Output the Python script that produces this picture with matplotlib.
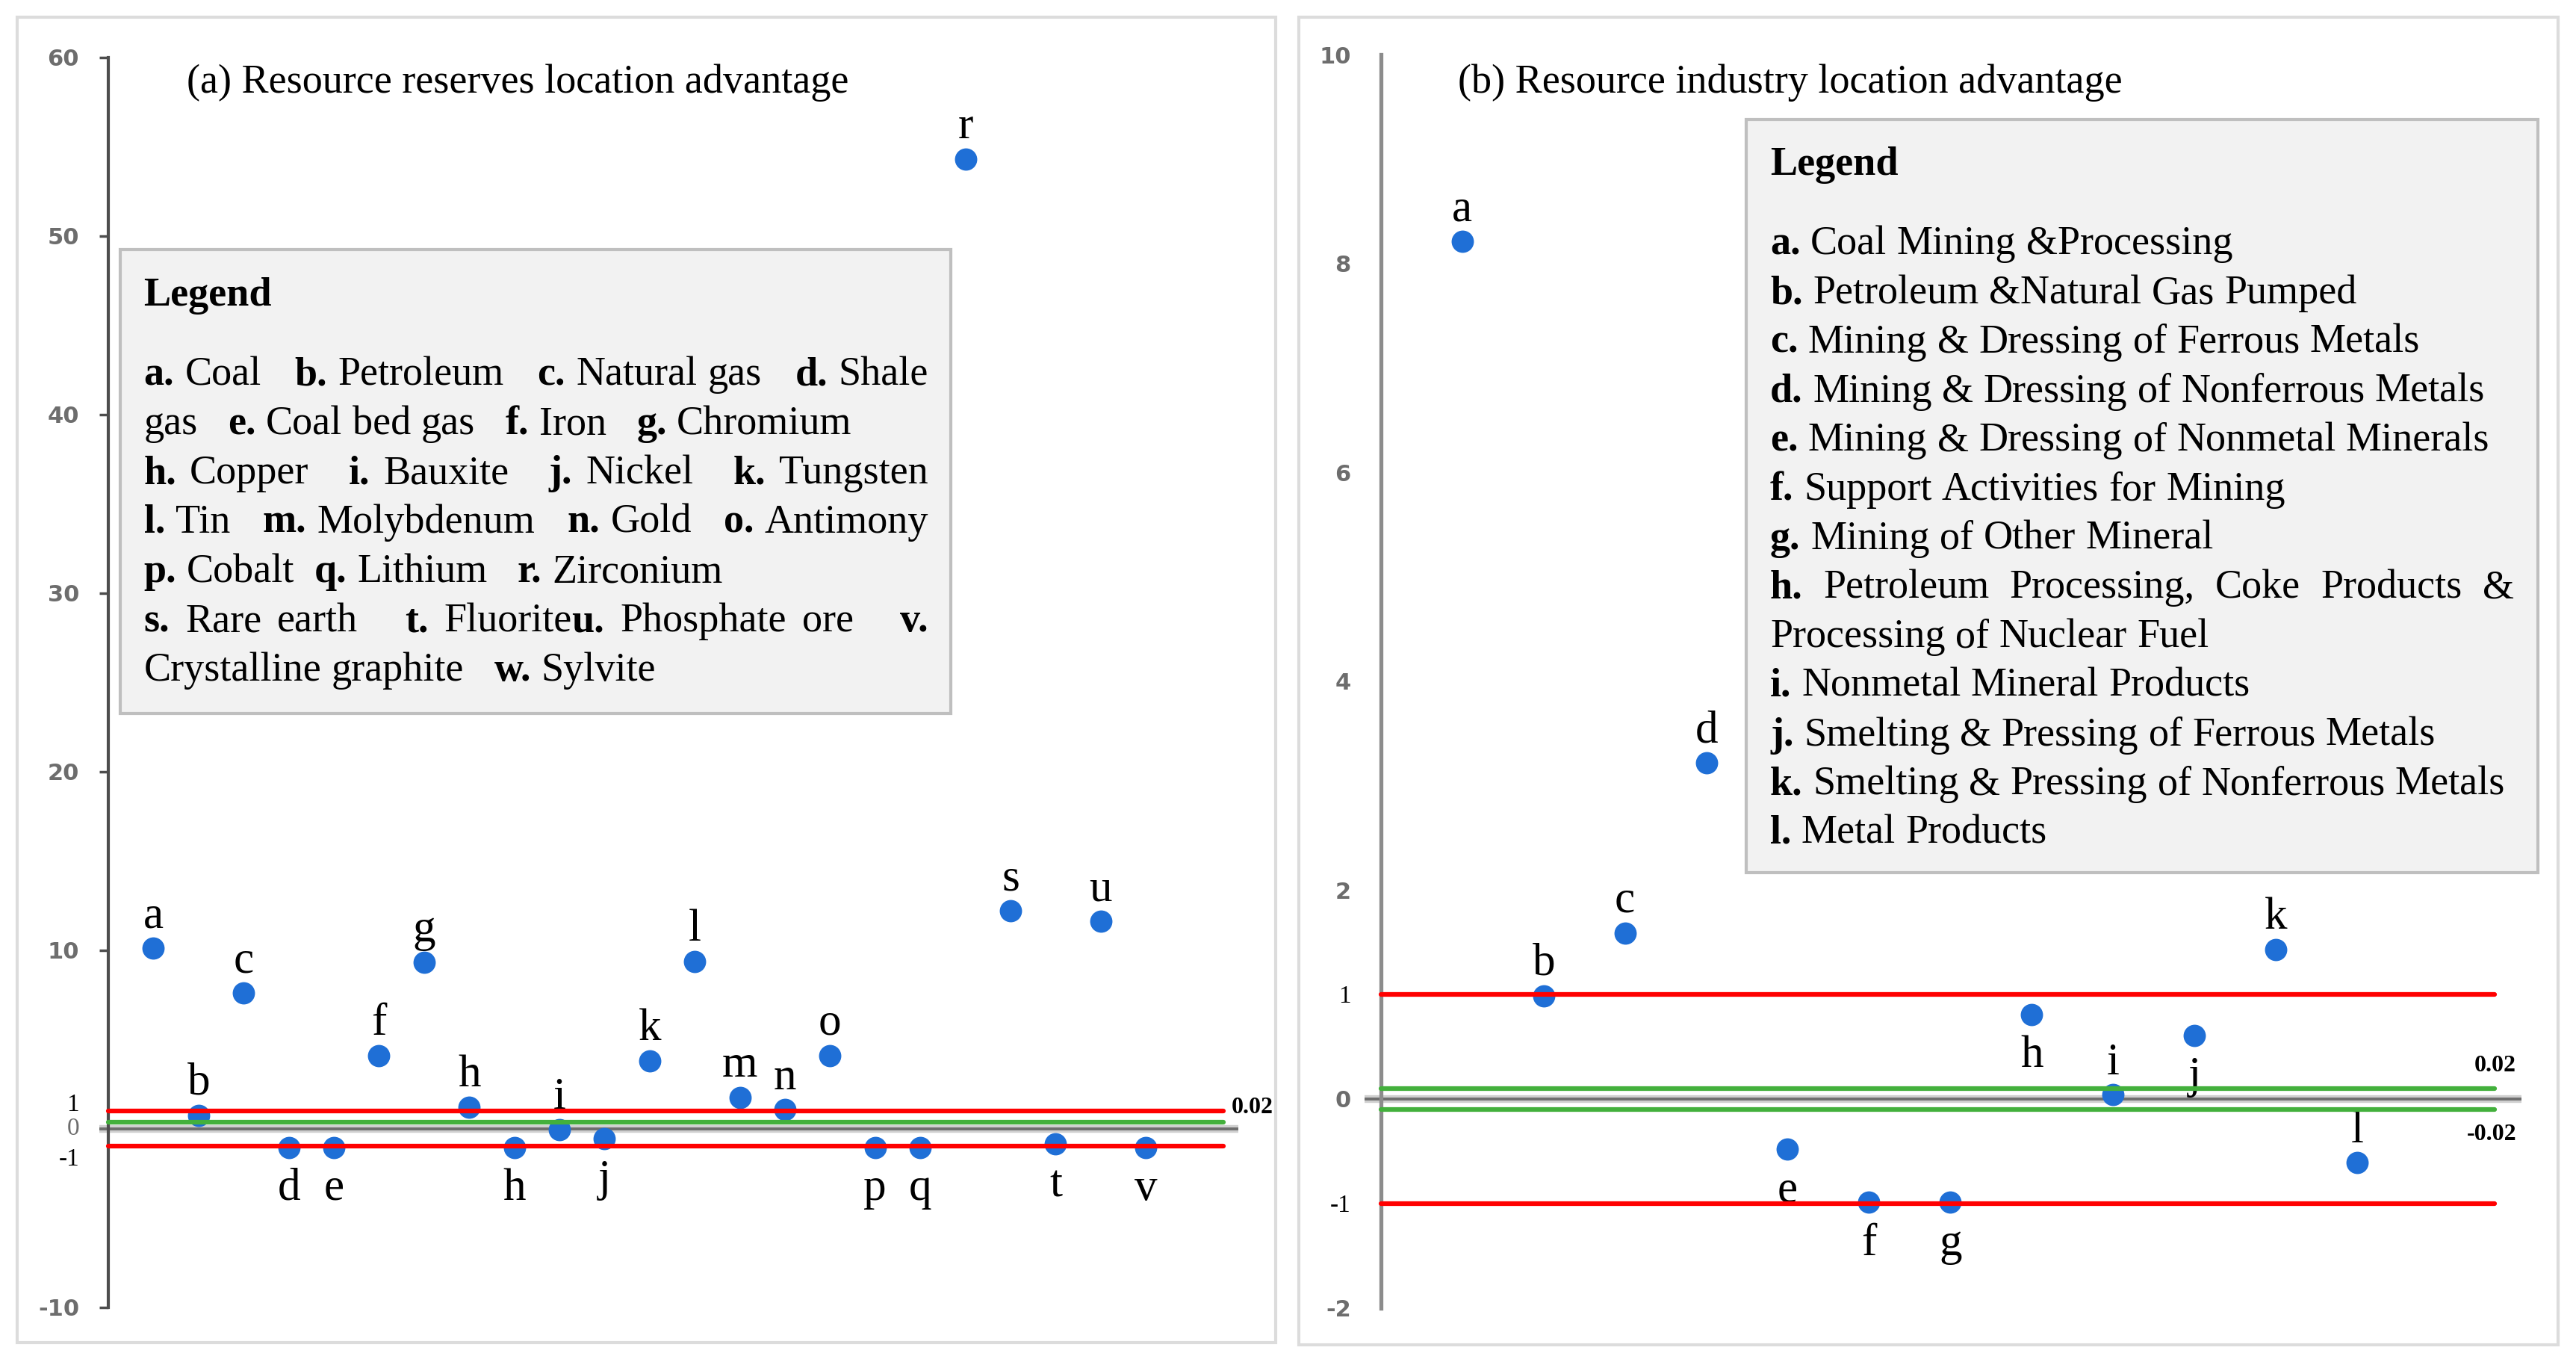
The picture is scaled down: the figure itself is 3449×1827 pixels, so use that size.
import matplotlib
matplotlib.use("Agg")
import matplotlib.pyplot as plt
from matplotlib.patches import Rectangle

W, H, DPI = 3449, 1827, 100
SERIF = "Liberation Serif"

# (a) resource reserves location advantage
res_labels = ["a", "b", "c", "d", "e", "f", "g", "h", "h", "i", "j", "k",
              "l", "m", "n", "o", "p", "q", "r", "s", "t", "u", "v"]
res_values = [10.1, 0.75, 7.6, -1.05, -1.05, 4.1, 9.3, 1.2, -1.05, -0.05, -0.55, 3.8,
              9.35, 1.75, 1.05, 4.1, -1.05, -1.05, 54.3, 12.2, -0.85, 11.6, -1.05]
res_side = ["up", "up", "up", "down", "down", "up", "up", "up", "down", "up", "down", "up",
            "up", "up", "up", "up", "down", "down", "up", "up", "down", "up", "down"]
res_red = [1, -1]
res_green = [0.35]
res_ticks = [-10, 10, 20, 30, 40, 50, 60]

# (b) resource industry location advantage
ind_labels = ["a", "b", "c", "d", "e", "f", "g", "h", "i", "j", "k", "l"]
ind_values = [8.21, 0.99, 1.59, 3.22, -0.48, -0.99, -0.99, 0.81, 0.04, 0.61, 1.43, -0.61]
ind_side = ["up", "up", "up", "up", "down", "down", "down", "down", "up", "down", "up", "up"]
ind_red = [1, -1]
ind_green = [0.1, -0.1]
ind_ticks = [-2, 0, 2, 4, 6, 8, 10]

res_legend = [
    "**a.** Coal   **b.** Petroleum   **c.** Natural gas   **d.** Shale",
    "gas   **e.** Coal bed gas   **f.** Iron   **g.** Chromium",
    "**h.** Copper   **i.** Bauxite   **j.** Nickel   **k.** Tungsten",
    "**l.** Tin   **m.** Molybdenum   **n.** Gold   **o.** Antimony",
    "**p.** Cobalt  **q.** Lithium   **r.** Zirconium",
    "**s.** Rare earth   **t.** Fluorite**u.** Phosphate ore   **v.**",
    "Crystalline graphite   **w.** Sylvite",
]
res_justify = [True, False, True, True, False, True, False]

ind_legend = [
    "**a.** Coal Mining &Processing",
    "**b.** Petroleum &Natural Gas Pumped",
    "**c.** Mining & Dressing of Ferrous Metals",
    "**d.** Mining & Dressing of Nonferrous Metals",
    "**e.** Mining & Dressing of Nonmetal Minerals",
    "**f.** Support Activities for Mining",
    "**g.** Mining of Other Mineral",
    "**h.** Petroleum Processing, Coke Products &",
    "Processing of Nuclear Fuel",
    "**i.** Nonmetal Mineral Products",
    "**j.** Smelting & Pressing of Ferrous Metals",
    "**k.** Smelting & Pressing of Nonferrous Metals",
    "**l.** Metal Products",
]
ind_justify = [False] * 7 + [True] + [False] * 5

BLUE = "#1f6fd6"
RED = "#ff0000"
GREEN = "#43b03c"
GRAY_TICK = "#6d6d6d"
LEGEND_SIZE = 39


def fx(x):
    return x / W


def fy(y):
    return 1 - y / H


def parse(line):
    pieces = []
    pending = 0
    for i, part in enumerate(line.split("**")):
        bold = i % 2 == 1
        word = ""
        for ch in part:
            if ch == " ":
                if word:
                    pieces.append([pending, word, bold])
                    pending, word = 0, ""
                pending += 1
            else:
                word += ch
        if word:
            pieces.append([pending, word, bold])
            pending = 0
    return pieces


def draw_rich_line(fig, renderer, x0, y, line, size, right=None):
    pieces = parse(line)
    t1 = fig.text(0, 0, "n n", family=SERIF, fontsize=size)
    t2 = fig.text(0, 0, "nn", family=SERIF, fontsize=size)
    space = t1.get_window_extent(renderer).width - t2.get_window_extent(renderer).width
    t1.remove()
    t2.remove()
    objs = []
    for n, word, bold in pieces:
        t = fig.text(0, fy(y), word, family=SERIF, fontsize=size,
                     fontweight="bold" if bold else "normal", va="baseline", ha="left",
                     zorder=6)
        objs.append((n, t, t.get_window_extent(renderer).width))
    n_spaces = sum(n for n, _, _ in objs)
    total = sum(w for _, _, w in objs) + n_spaces * space
    extra = 0
    if right is not None and n_spaces > 0:
        extra = (right - x0 - total) / n_spaces
    x = x0
    for n, t, w in objs:
        x += n * (space + extra)
        t.set_x(fx(x))
        x += w


def draw_legend_box(fig, renderer, box, x0, title_y, first_y, step, lines, justify, right):
    bx0, by0, bx1, by1 = box
    fig.patches.append(Rectangle((fx(bx0), fy(by1)), (bx1 - bx0) / W, (by1 - by0) / H,
                                 transform=fig.transFigure, facecolor="#f2f2f2",
                                 edgecolor="#bfbfbf", linewidth=3, zorder=5))
    fig.text(fx(x0), fy(title_y), "Legend", family=SERIF, fontsize=LEGEND_SIZE,
             fontweight="bold", va="baseline", ha="left", zorder=6)
    for k, (line, just) in enumerate(zip(lines, justify)):
        draw_rich_line(fig, renderer, x0, first_y + k * step, line, LEGEND_SIZE,
                       right=right if just else None)


def draw_points(ax, labels, values, side):
    xs = list(range(1, len(values) + 1))
    ax.plot(xs, values, "o", color=BLUE, markersize=21.5, markeredgewidth=0,
            zorder=3, clip_on=False)
    for x, v, lab, s in zip(xs, values, labels, side):
        if s == "up":
            ax.annotate(lab, (x, v), xytext=(0, 20), textcoords="offset points",
                        ha="center", va="baseline", family=SERIF, fontsize=44)
        else:
            ax.annotate(lab, (x, v), xytext=(0, -20), textcoords="offset points",
                        ha="center", va="top", family=SERIF, fontsize=44)


def draw_ref_lines(ax, xmax, red, green, zero_end):
    ax.plot([-0.2, zero_end], [0, 0], color="#cfcfcf", lw=7.5, zorder=2,
            clip_on=False, solid_capstyle="butt")
    ax.plot([-0.2, zero_end], [0, 0], color="#6e6e6e", lw=2.8, zorder=2,
            clip_on=False, solid_capstyle="butt")
    for g in green:
        ax.plot([0, xmax], [g, g], color=GREEN, lw=4.5, zorder=4,
                clip_on=False, solid_capstyle="round")
    for r in red:
        ax.plot([0, xmax], [r, r], color=RED, lw=4.5, zorder=4,
                clip_on=False, solid_capstyle="round")


fig = plt.figure(figsize=(W / DPI, H / DPI), dpi=DPI)
renderer = fig.canvas.get_renderer()

# panel frames
for x0, y0, x1, y1 in [(23, 23, 1708, 1797), (1739, 23, 3425, 1800)]:
    fig.patches.append(Rectangle((fx(x0), fy(y1)), (x1 - x0) / W, (y1 - y0) / H,
                                 transform=fig.transFigure, facecolor="none",
                                 edgecolor="#dcdcdc", linewidth=3))

# ---- panel (a)
ax1 = fig.add_axes([fx(145), fy(1749.5), 1510 / W, (1749.5 - 76.5) / H])
ax1.set_xlim(0, 25)
ax1.set_ylim(-10, 60)
for sp in ["top", "right", "bottom"]:
    ax1.spines[sp].set_visible(False)
ax1.spines["left"].set_color("#4d4d4d")
ax1.spines["left"].set_linewidth(3)
ax1.set_xticks([])
ax1.set_yticks(res_ticks)
ax1.set_yticklabels([str(t) for t in res_ticks], family="DejaVu Sans",
                    fontweight="bold", fontsize=22, color=GRAY_TICK)
ax1.tick_params(axis="y", length=9, width=2.5, color="#4d4d4d", pad=19)
ax1.patch.set_visible(False)

draw_ref_lines(ax1, 24.72, res_red, res_green, 25.05)
draw_points(ax1, res_labels, res_values, res_side)

for txt, v, dy, col in [("1", 1, 6, "black"), ("0", 0, 0, GRAY_TICK), ("-1", -1, -12.5, "black")]:
    ax1.annotate(txt, (0, v), xytext=(-28, dy), textcoords="offset points",
                 ha="right", va="center", family=SERIF, fontsize=24, color=col)
ax1.annotate("0.02", (24.72, res_green[0]), xytext=(8, 14), textcoords="offset points",
             ha="left", va="center", family=SERIF, fontsize=23, fontweight="bold")

fig.text(fx(250), fy(124), "(a) Resource reserves location advantage", family=SERIF,
         fontsize=39, va="baseline", ha="left")

# ---- panel (b)
ax2 = fig.add_axes([fx(1849), fy(1750.6), 1524.6 / W, (1750.6 - 73) / H])
ax2.set_xlim(0, 14)
ax2.set_ylim(-2, 10)
for sp in ["top", "right", "bottom"]:
    ax2.spines[sp].set_visible(False)
ax2.spines["left"].set_color("#8c8c8c")
ax2.spines["left"].set_linewidth(3.8)
ax2.set_xticks([])
ax2.set_yticks(ind_ticks)
ax2.set_yticklabels([str(t) for t in ind_ticks], family="DejaVu Sans",
                    fontweight="bold", fontsize=22, color=GRAY_TICK)
ax2.tick_params(axis="y", length=0, pad=29)
ax2.patch.set_visible(False)

draw_ref_lines(ax2, 13.69, ind_red, ind_green, 14.02)
draw_points(ax2, ind_labels, ind_values, ind_side)

for txt, v in [("1", 1), ("-1", -1)]:
    ax2.annotate(txt, (0, v), xytext=(-29, -2), textcoords="offset points",
                 ha="right", va="center", family=SERIF, fontsize=24)
ax2.annotate("0.02", (13.96, ind_green[0]), xytext=(0, 22), textcoords="offset points",
             ha="right", va="center", family=SERIF, fontsize=23, fontweight="bold")
ax2.annotate("-0.02", (13.96, ind_green[1]), xytext=(0, -24), textcoords="offset points",
             ha="right", va="center", family=SERIF, fontsize=23, fontweight="bold")

fig.text(fx(1952), fy(124), "(b) Resource industry location advantage", family=SERIF,
         fontsize=39, va="baseline", ha="left")

# ---- legends
draw_legend_box(fig, renderer, (161, 334.5, 1272.5, 955), 192.5, 409, 515, 66,
                res_legend, res_justify, 1243)
draw_legend_box(fig, renderer, (2338, 160, 3397.5, 1168), 2370, 234, 340.5, 65.7,
                ind_legend, ind_justify, 3366)

fig.savefig("out.png", dpi=DPI)
